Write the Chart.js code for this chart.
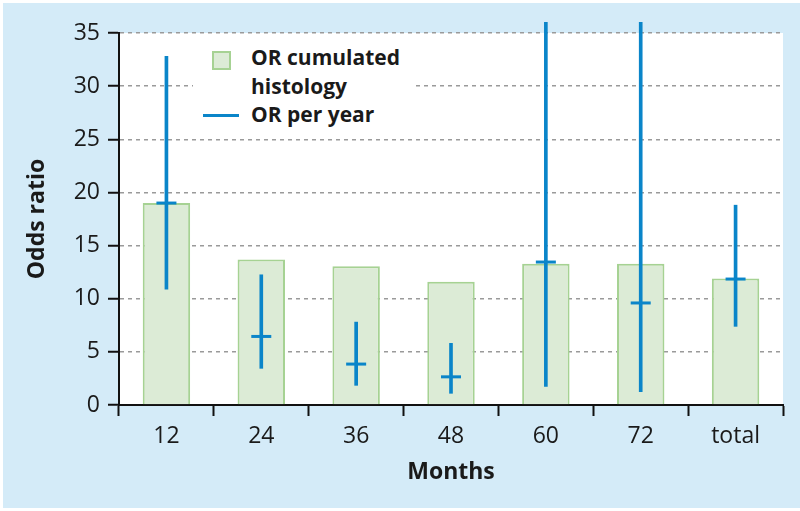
<!DOCTYPE html>
<html lang="en">
<head>
    <meta charset="UTF-8">
    <title>Odds ratio by months</title>
    <script src="https://cdn.jsdelivr.net/npm/chart.js"></script>
    <style>
        body { margin: 0; background: #fff; }
        #wrap { position: relative; width: 800px; height: 511px; }
        #legend {
            position: absolute; left: 193px; top: 40px; width: 220px; height: 92px;
            background: #fff; font-family: "Open Sans", sans-serif; font-weight: bold;
            font-size: 21px; color: #1a1a1a; line-height: 28.5px;
        }
        #legend .box {
            position: absolute; left: 19px; top: 11px; width: 15px; height: 15px;
            background: #dcebd6; border: 2px solid #a6d293;
        }
        #legend .line {
            position: absolute; left: 10px; top: 74px; width: 36px; height: 3px; background: #0a85c9;
        }
        #legend .txt { position: absolute; left: 58px; top: 3px; }
        #legend .txt2 { position: absolute; left: 58px; top: 60px; }
    </style>
</head>
<body>
    <div id="wrap">
        <canvas id="orChart" width="800" height="511"></canvas>
        <div id="legend">
            <div class="box"></div>
            <div class="txt">OR cumulated<br>histology</div>
            <div class="line"></div>
            <div class="txt2">OR per year</div>
        </div>
    </div>

    <script>
        // values
        const months = ['12', '24', '36', '48', '60', '72', 'total'];
        const orCumulated = [19.0, 13.7, 13.05, 11.6, 13.3, 13.3, 11.9];
        const orPerYear = [19.0, 6.45, 3.85, 2.65, 13.45, 9.6, 11.85];
        const ciLow = [10.9, 3.45, 1.85, 1.1, 1.75, 1.25, 7.4];
        const ciHigh = [32.8, 12.25, 7.8, 5.8, 36, 36, 18.8];
        const yTicks = [0, 5, 10, 15, 20, 25, 30, 35];

        const blue = '#0a85c9';

        // light blue frame with white plot area
        const background = {
            id: 'background',
            beforeDraw(chart) {
                const {ctx, chartArea: a} = chart;
                ctx.save();
                ctx.fillStyle = '#fff';
                ctx.fillRect(0, 0, chart.width, chart.height);
                ctx.fillStyle = '#d4ebf8';
                ctx.fillRect(3, 3, chart.width - 3, chart.height - 6);
                ctx.fillStyle = '#fff';
                ctx.fillRect(a.left, a.top, a.right - a.left, a.bottom - a.top);
                ctx.restore();
            }
        };

        new Chart(document.getElementById('orChart'), {
            type: 'bar',
            data: {
                labels: months,
                datasets: [{
                    label: 'OR cumulated histology',
                    data: orCumulated,
                    backgroundColor: '#dcebd6',
                    borderColor: '#a6d293',
                    borderWidth: 2,
                    barPercentage: 0.5,
                    categoryPercentage: 1,
                    grouped: false,
                    order: 3
                }, {
                    label: 'CI',
                    data: ciLow.map((v, i) => [v, ciHigh[i]]),
                    backgroundColor: blue,
                    barThickness: 3,
                    grouped: false,
                    clip: false,
                    order: 2
                }, {
                    type: 'line',
                    label: 'OR per year',
                    data: orPerYear,
                    showLine: false,
                    pointStyle: 'line',
                    pointRadius: 10,
                    pointBorderWidth: 3,
                    borderColor: blue,
                    order: 1
                }]
            },
            options: {
                responsive: false,
                animation: false,
                events: [],
                layout: { padding: { left: 0, right: 17, top: 33, bottom: 0 } },
                plugins: { legend: { display: false }, tooltip: { enabled: false } },
                scales: {
                    x: {
                        afterFit(scale) { scale.height = 106; },
                        grid: { drawOnChartArea: false, tickLength: 11, tickColor: '#111', tickWidth: 2 },
                        border: { color: '#111', width: 2 },
                        ticks: { color: '#1a1a1a', padding: 7, font: { family: 'Open Sans', size: 23 } },
                        title: {
                            display: true, text: 'Months', color: '#1a1a1a',
                            font: { family: 'Open Sans', size: 23, weight: 'bold' },
                            padding: { top: 0, bottom: 25 }
                        }
                    },
                    y: {
                        min: 0,
                        max: 35,
                        afterFit(scale) { scale.width = 119; },
                        afterBuildTicks(scale) { scale.ticks = yTicks.map(v => ({ value: v })); },
                        grid: { color: '#9a9a9a', lineWidth: 1.5, tickLength: 11, tickColor: '#111', tickWidth: 2, tickBorderDash: [] },
                        border: { color: '#111', width: 2, dash: [4, 4] },
                        ticks: { color: '#1a1a1a', padding: 8, font: { family: 'Open Sans', size: 23 } },
                        title: {
                            display: true, text: 'Odds ratio', color: '#1a1a1a',
                            font: { family: 'Open Sans', size: 23, weight: 'bold' },
                            padding: { top: 24, bottom: 0 }
                        }
                    }
                }
            },
            plugins: [background]
        });
    </script>
</body>
</html>
